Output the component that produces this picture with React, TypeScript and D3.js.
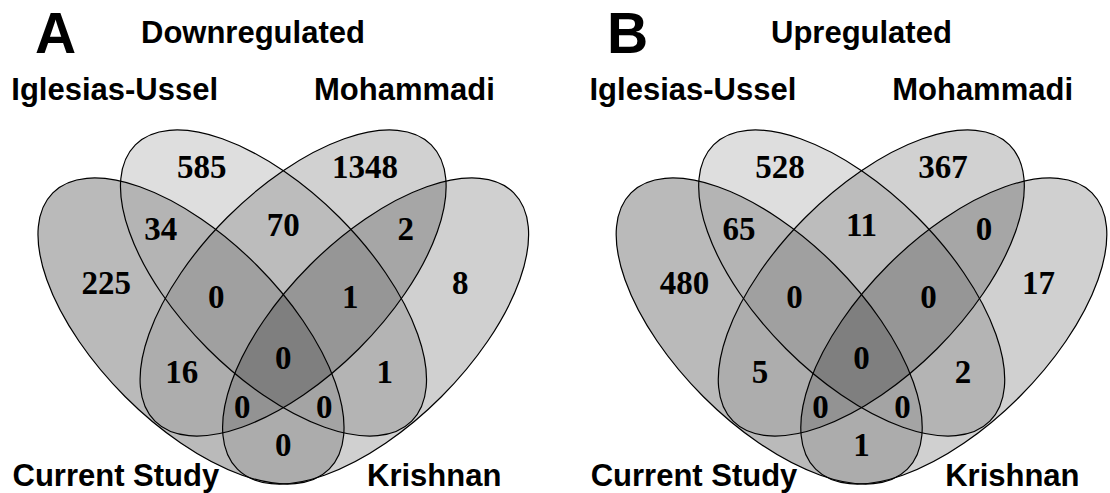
import React from 'react';
import * as d3 from 'd3';

// sets, in the order the region keys use them
const setKeys = ['C', 'I', 'M', 'K'];
const setNames = ['Current Study', 'Iglesias-Ussel', 'Mohammadi', 'Krishnan'];

// every region of the 4-set diagram, named by the sets it belongs to
const regionKeys = ['C', 'I', 'M', 'K', 'CI', 'IM', 'MK', 'CM', 'IK', 'CK', 'CIM', 'IMK', 'CMK', 'CIK', 'CIMK'];
const downregulated = [225, 585, 1348, 8, 34, 70, 2, 16, 1, 0, 0, 1, 0, 0, 0];
const upregulated = [480, 528, 367, 17, 65, 11, 0, 5, 2, 1, 0, 0, 0, 0, 0];

const panelLetters = ['A', 'B'];
const panelTitles = ['Downregulated', 'Upregulated'];

const W = 1110;
const H = 493;

// geometry of one panel, offsets from its vertical axis
const ELL_A = 195.4;
const ELL_B = 93;
const ellipseLayout: Record<string, { dx: number; cy: number; rot: number }> = {
  C: { dx: -92.3, cy: 331, rot: 45 },
  I: { dx: -9.8, cy: 283, rot: 45 },
  M: { dx: 9.8, cy: 283, rot: -45 },
  K: { dx: 92.3, cy: 331, rot: -45 }
};
const countPos: Record<string, [number, number]> = {
  C: [-177, 283], I: [-81.6, 166.5], M: [81.6, 166.5], K: [177, 283],
  CI: [-122.5, 229], IM: [0, 225], MK: [122.5, 229], CM: [-101.5, 372], IK: [101.5, 372],
  CK: [0, 445], CIM: [-67, 296.7], IMK: [67, 296.7], CMK: [-41, 406.7], CIK: [41, 406.7],
  CIMK: [0, 357.5]
};
const shade: Record<string, string> = {
  C: '#bababa', I: '#dedede', M: '#d1d1d1', K: '#d0d0d0',
  CI: '#b4b4b4', IM: '#bcbcbc', MK: '#a6a6a6', CM: '#adadad', IK: '#b4b4b4', CK: '#acacac',
  CIM: '#a0a0a0', IMK: '#969696', CMK: '#939393', CIK: '#a4a4a4', CIMK: '#7f7f7f'
};

const panels = [
  { axis: 283.3, letterX: 35, titleX: 141, values: downregulated },
  { axis: 861.5, letterX: 607, titleX: 771, values: upregulated }
];
// set label anchors, relative to the axis
const setLabelPos: Record<string, [number, number]> = {
  I: [-272, 100], M: [30.7, 100], C: [-270.8, 486], K: [83.7, 486]
};

const sans = "'Liberation Sans', Arial, sans-serif";
const serif = "'Liberation Serif', 'Times New Roman', serif";

function Panel({ idx }: { idx: number }) {
  const p = panels[idx];
  const x = d3.scaleLinear().domain([-300, 300]).range([p.axis - 300, p.axis + 300]);
  const y = d3.scaleLinear().domain([0, H]).range([0, H]);
  const id = `p${idx}`;

  const ellipse = (k: string, props: any) => {
    const e = ellipseLayout[k];
    return (
      <ellipse
        key={k}
        cx={0}
        cy={0}
        rx={ELL_A}
        ry={ELL_B}
        transform={`translate(${x(e.dx)},${y(e.cy)}) rotate(${e.rot})`}
        {...props}
      />
    );
  };

  const region = (r: string) => {
    const inc = setKeys.filter((s) => r.includes(s));
    let node: any = (
      <rect x={0} y={0} width={W} height={H} fill={shade[r]} mask={`url(#${id}-m-${r})`} />
    );
    inc.forEach((s) => {
      node = <g clipPath={`url(#${id}-c-${s})`}>{node}</g>;
    });
    return <g key={r}>{node}</g>;
  };

  return (
    <g>
      <defs>
        {setKeys.map((s) => (
          <clipPath id={`${id}-c-${s}`} key={s}>
            {ellipse(s, {})}
          </clipPath>
        ))}
        {regionKeys.map((r) => (
          <mask id={`${id}-m-${r}`} key={r} maskUnits="userSpaceOnUse" x={0} y={0} width={W} height={H}>
            <rect x={0} y={0} width={W} height={H} fill="white" />
            {setKeys.filter((s) => !r.includes(s)).map((s) => ellipse(s, { fill: 'black' }))}
          </mask>
        ))}
      </defs>
      {regionKeys.map(region)}
      {setKeys.map((s) => ellipse(s, { fill: 'none', stroke: '#000', strokeWidth: 1.2 }))}
      {regionKeys.map((r, i) => (
        <text
          key={r}
          x={x(countPos[r][0])}
          y={y(countPos[r][1]) + 11}
          textAnchor="middle"
          fontFamily={serif}
          fontWeight="bold"
          fontSize={33}
          fill="#000"
        >
          {p.values[i]}
        </text>
      ))}
      {setKeys.map((s, i) => (
        <text
          key={s}
          x={x(setLabelPos[s][0])}
          y={setLabelPos[s][1]}
          fontFamily={sans}
          fontWeight="bold"
          fontSize={31}
          fill="#000"
        >
          {setNames[i]}
        </text>
      ))}
      <text x={p.letterX} y={53} fontFamily={sans} fontWeight="bold" fontSize={57} fill="#000">
        {panelLetters[idx]}
      </text>
      <text x={p.titleX} y={43} fontFamily={sans} fontWeight="bold" fontSize={31} fill="#000">
        {panelTitles[idx]}
      </text>
    </g>
  );
}

export default function App() {
  return (
    <svg
      width={W}
      height={H}
      viewBox={`0 0 ${W} ${H}`}
      style={{ position: 'absolute', left: 0, top: 0, display: 'block', background: '#fff' }}
    >
      <rect x={0} y={0} width={W} height={H} fill="#fff" />
      {panels.map((_, i) => (
        <Panel key={i} idx={i} />
      ))}
    </svg>
  );
}
